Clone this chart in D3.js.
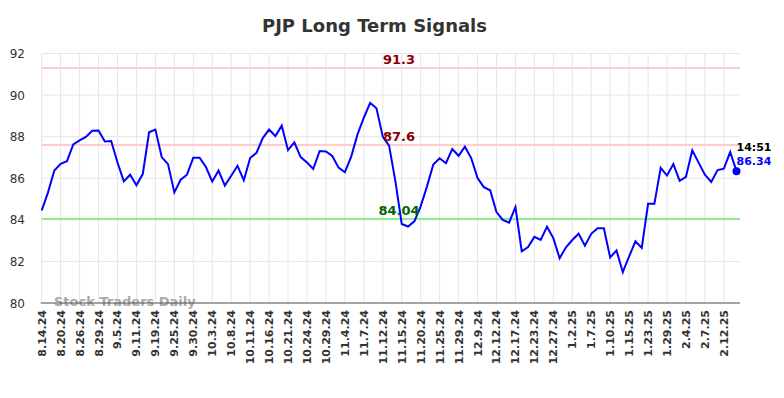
<!DOCTYPE html>
<html><head><meta charset="utf-8">
<script src="https://cdn.jsdelivr.net/npm/d3@7"></script>
<style>body{margin:0;background:#fff}svg{display:block;font-family:"DejaVu Sans",sans-serif}</style>
</head><body><svg id="c" width="784" height="398"></svg>
<script>
const title = "PJP Long Term Signals";
const tickLabels = ["8.14.24","8.20.24","8.26.24","8.29.24","9.5.24","9.11.24","9.19.24","9.25.24","9.30.24","10.3.24","10.8.24","10.11.24","10.16.24","10.21.24","10.24.24","10.29.24","11.4.24","11.7.24","11.12.24","11.15.24","11.20.24","11.25.24","11.29.24","12.9.24","12.12.24","12.17.24","12.23.24","12.27.24","1.2.25","1.7.25","1.10.25","1.15.25","1.23.25","1.29.25","2.4.25","2.7.25","2.12.25"];
const values = [84.45,85.32,86.37,86.69,86.82,87.63,87.82,87.99,88.28,88.30,
87.77,87.79,86.76,85.85,86.17,85.66,86.20,88.21,88.34,87.02,
86.68,85.32,85.93,86.17,86.99,86.99,86.54,85.84,86.37,85.65,
86.12,86.60,85.90,86.97,87.22,87.93,88.34,88.03,88.53,87.35,
87.72,87.02,86.76,86.45,87.31,87.29,87.07,86.51,86.29,87.04,
88.11,88.91,89.63,89.37,88.00,87.57,85.85,83.80,83.68,83.93,
84.65,85.61,86.66,86.96,86.72,87.40,87.08,87.52,86.97,86.01,
85.57,85.42,84.37,84.00,83.86,84.61,82.49,82.69,83.18,83.03,
83.67,83.12,82.15,82.68,83.03,83.33,82.76,83.33,83.59,83.59,
82.19,82.53,81.48,82.24,82.97,82.65,84.77,84.77,86.50,86.13,
86.68,85.88,86.07,87.34,86.75,86.17,85.82,86.39,86.46,87.26,86.34];
const tickEvery = 3;
const yTicks = [80,82,84,86,88,90,92];
const signalLevels = [91.3, 87.6, 84.04];
const signalLabels = ["91.3","87.6","84.04"];
const lastTime = "14:51";
const lastLabel = "86.34";
const watermark = "Stock Traders Daily";

const svg = d3.select("#c");
const L = 41.7, R = 740, T = 53.5, B = 303;
const x = d3.scaleLinear().domain([0, values.length - 1]).range([L, 736.5]);
const y = d3.scaleLinear().domain([80, 92]).range([B, T]);

// title
svg.append("text").attr("x", 374.5).attr("y", 31.5).attr("text-anchor", "middle")
  .attr("font-size", 18).attr("font-weight", "bold").attr("fill", "#333").text(title);

// grid
const tickIdx = tickLabels.map((d, i) => i * tickEvery);
svg.append("g").selectAll("line").data(yTicks).join("line")
  .attr("x1", L).attr("x2", R).attr("y1", d => y(d)).attr("y2", d => y(d))
  .attr("stroke", "#e6e6e6").attr("stroke-width", 1);
svg.append("g").selectAll("line").data(tickIdx).join("line")
  .attr("x1", d => x(d)).attr("x2", d => x(d)).attr("y1", T).attr("y2", B)
  .attr("stroke", "#e6e6e6").attr("stroke-width", 1);

// y labels
svg.append("g").selectAll("text").data(yTicks).join("text")
  .attr("x", 25).attr("y", d => y(d) + 4.5).attr("text-anchor", "end")
  .attr("font-size", 12).attr("fill", "#333").text(d => d);

// x labels
svg.append("g").selectAll("text").data(tickIdx).join("text")
  .attr("transform", d => `translate(${x(d) + 4},310) rotate(-90)`)
  .attr("text-anchor", "end").attr("font-size", 11).attr("font-weight", "bold")
  .attr("fill", "#333").text((d, i) => tickLabels[i]);

// signal lines
const sigColors = ["#ffcccc", "#ffcccc", "#90ee90"];
const sigText = ["#8b0000", "#8b0000", "#006400"];
svg.append("g").selectAll("line").data(signalLevels).join("line")
  .attr("x1", L).attr("x2", R).attr("y1", d => y(d)).attr("y2", d => y(d))
  .attr("stroke", (d, i) => sigColors[i]).attr("stroke-width", 2);

// watermark
svg.append("text").attr("x", 54).attr("y", 306).attr("font-size", 13).attr("font-weight", "bold")
  .attr("fill", "#aaa").text(watermark);

// axis baseline
svg.append("line").attr("x1", L - 1).attr("x2", R).attr("y1", B).attr("y2", B)
  .attr("stroke", "#555").attr("stroke-width", 1);

// line
svg.append("path").datum(values)
  .attr("d", d3.line().x((d, i) => x(i)).y(d => y(d)))
  .attr("fill", "none").attr("stroke", "#0000ff").attr("stroke-width", 2);

// signal labels
svg.append("g").selectAll("text").data(signalLevels).join("text")
  .attr("x", 399).attr("y", d => y(d) - 4).attr("text-anchor", "middle")
  .attr("font-size", 13).attr("font-weight", "bold")
  .attr("fill", (d, i) => sigText[i]).text((d, i) => signalLabels[i]);

// last point
const li = values.length - 1;
svg.append("circle").attr("cx", x(li)).attr("cy", y(values[li])).attr("r", 4).attr("fill", "#0000ff");
svg.append("text").attr("x", x(li)).attr("y", y(values[li]) - 20).attr("font-size", 11)
  .attr("font-weight", "bold").attr("fill", "#000").text(lastTime);
svg.append("text").attr("x", x(li)).attr("y", y(values[li]) - 6).attr("font-size", 11)
  .attr("font-weight", "bold").attr("fill", "#0000ff").text(lastLabel);
</script></body></html>
